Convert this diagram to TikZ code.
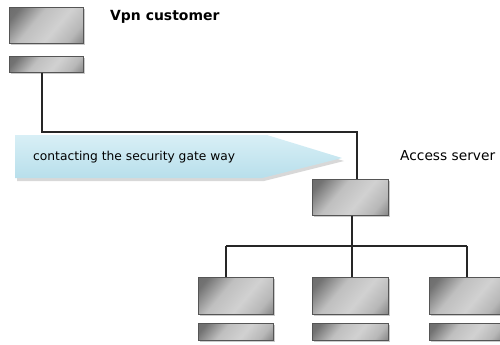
\documentclass[tikz,border=0pt]{standalone}
\usepackage{fontspec}
\setmainfont{DejaVu Sans}
\usetikzlibrary{shadows}
\definecolor{bannertop}{RGB}{216,239,246}
\definecolor{bannerbot}{RGB}{184,223,235}
\definecolor{edgegray}{RGB}{85,85,85}
\pgfdeclarehorizontalshading{metal}{100bp}{color(0bp)=(black!62); color(22bp)=(black!55); color(40bp)=(black!25); color(58bp)=(black!18); color(74bp)=(black!28); color(90bp)=(black!55); color(100bp)=(black!65)}
\tikzset{
  metalbox/.style={rectangle, shading=metal, shading angle=-40, draw=edgegray, line width=1bp,
    drop shadow={shadow xshift=1.5bp, shadow yshift=-1.5bp, fill=black!35, opacity=0.6},
    inner sep=0pt},
  conn/.style={draw=black!85, line width=1.3bp},
  lbl/.style={inner sep=0pt, anchor=base west}
}
\begin{document}
\begin{tikzpicture}[x=1bp,y=-1bp]
\useasboundingbox (0,0) rectangle (500,344);
\clip (0,0) rectangle (500,344);
% banner
\path[fill=black!30, opacity=0.5] (17,138) -- (269,138) -- (344,161) -- (264,181) -- (17,181) -- cycle;
\shade[top color=bannertop, bottom color=bannerbot, draw=none]
  (15,135) -- (267,135) -- (342,158) -- (262,178) -- (15,178) -- cycle;
\node[lbl, font=\fontsize{12.3}{14}\selectfont] (bantext) at (33,160) {contacting the security gate way};
% customer
\node[metalbox, minimum width=73bp, minimum height=36bp] (cust) at (46.5,25) {};
\node[metalbox, minimum width=73bp, minimum height=16bp] (custbar) at (46.5,64) {};
\node[lbl, font=\bfseries\fontsize{14}{16}\selectfont] (custlbl) at (110,20) {Vpn customer};
% server
\node[metalbox, minimum width=76bp, minimum height=36bp] (srv) at (350,197) {};
\node[lbl, font=\fontsize{13.8}{16}\selectfont] (srvlbl) at (400,160) {Access server};
% clients
\node[metalbox, minimum width=75bp, minimum height=37bp] (b1) at (235.5,295.5) {};
\node[metalbox, minimum width=75bp, minimum height=17bp] (r1) at (235.5,331.5) {};
\node[metalbox, minimum width=76bp, minimum height=37bp] (b2) at (350,295.5) {};
\node[metalbox, minimum width=76bp, minimum height=17bp] (r2) at (350,331.5) {};
\node[metalbox, minimum width=75bp, minimum height=37bp] (b3) at (466.5,295.5) {};
\node[metalbox, minimum width=75bp, minimum height=17bp] (r3) at (466.5,331.5) {};
% connectors
\coordinate (c1) at (42,132);
\coordinate (c2) at (357,132);
\coordinate (j) at (352,246);
\coordinate (jl) at (226,246);
\coordinate (jr) at (467,246);
\draw[conn] (custbar.south -| c1) -- (c1) -- (c2) -- (srv.north -| c2);
\draw[conn] (srv.south -| j) -- (j);
\draw[conn] (jl) -- (jr);
\draw[conn] (jl) -- (b1.north -| jl);
\draw[conn] (j) -- (b2.north -| j);
\draw[conn] (jr) -- (b3.north -| jr);
\end{tikzpicture}
\end{document}
